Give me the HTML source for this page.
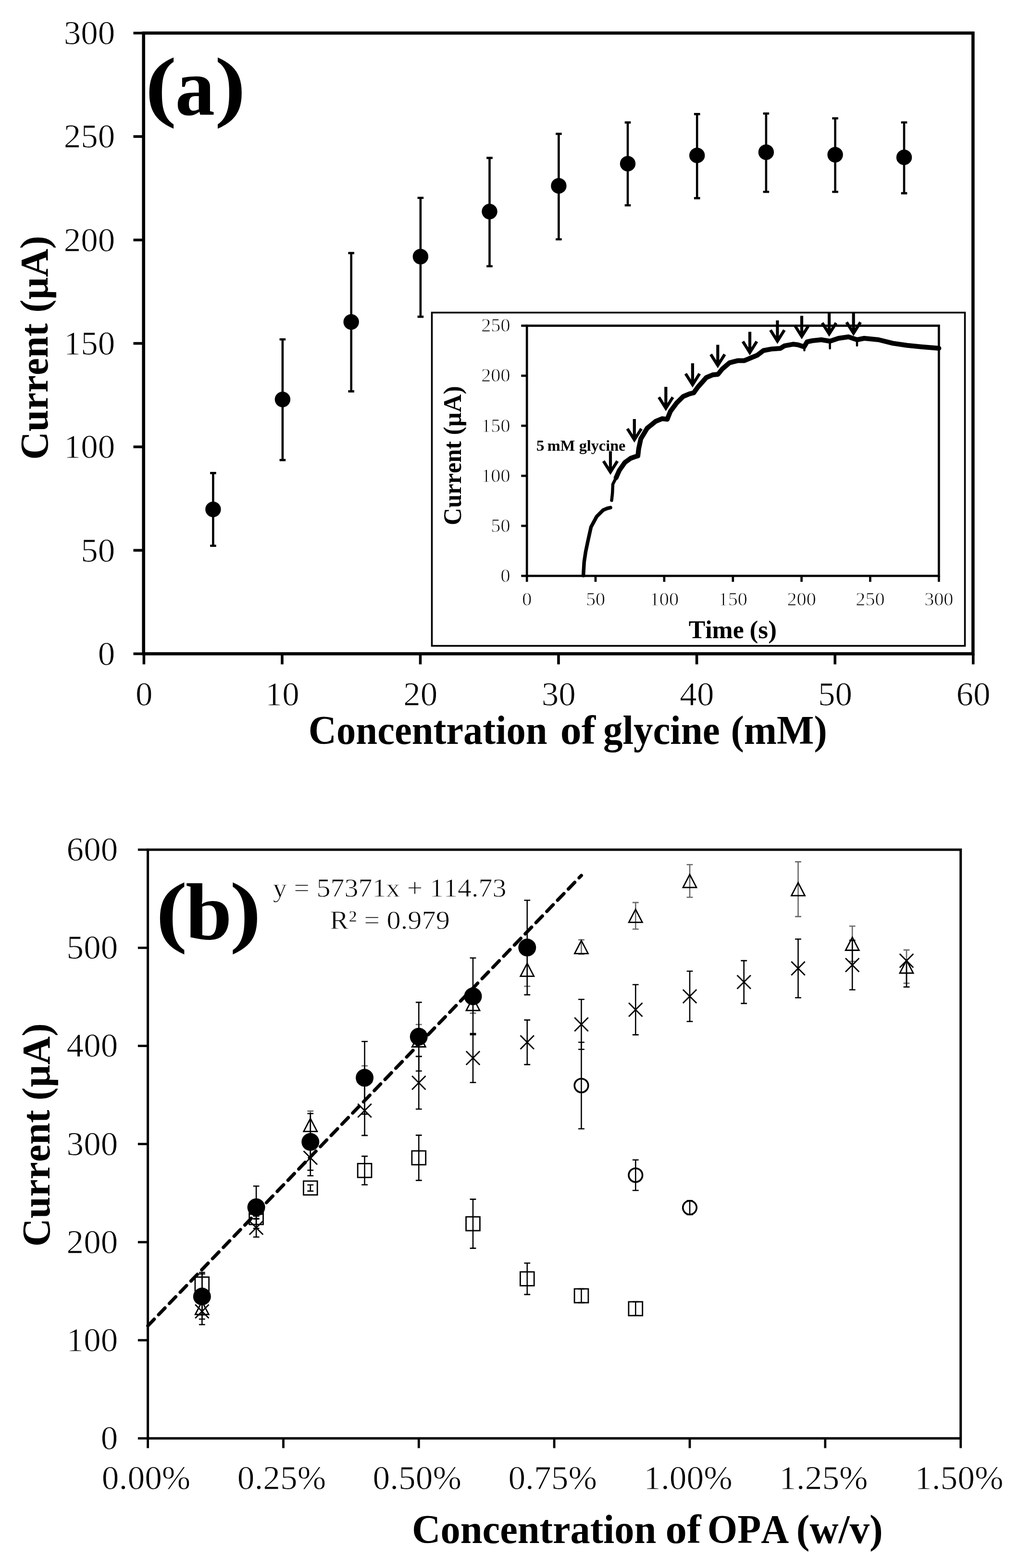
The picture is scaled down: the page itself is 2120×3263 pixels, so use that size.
<!DOCTYPE html><html><head><meta charset="utf-8"><title>Chart</title><style>html,body{margin:0;padding:0;background:#fff;}body{width:2120px;height:3263px;overflow:hidden;}svg{display:block;}.r{stroke:#fff;stroke-width:0.9px;}</style></head><body><svg width="2120" height="3263" viewBox="0 0 2120 3263" font-family="'Liberation Serif', serif" style="font-kerning:none">
<rect width="2120" height="3263" fill="#fff"/>
<rect x="298.7" y="68.8" width="1725.6" height="1291.7" fill="none" stroke="#000" stroke-width="6.6"/>
<g stroke="#000" stroke-width="5.6" fill="none">
<line x1="277.5" y1="1360.5" x2="298.7" y2="1360.5"/>
<line x1="277.5" y1="1145.2" x2="298.7" y2="1145.2"/>
<line x1="277.5" y1="929.9" x2="298.7" y2="929.9"/>
<line x1="277.5" y1="714.6" x2="298.7" y2="714.6"/>
<line x1="277.5" y1="499.4" x2="298.7" y2="499.4"/>
<line x1="277.5" y1="284.1" x2="298.7" y2="284.1"/>
<line x1="277.5" y1="68.8" x2="298.7" y2="68.8"/>
<line x1="299.4" y1="1360.5" x2="299.4" y2="1382.5"/>
<line x1="587.0" y1="1360.5" x2="587.0" y2="1382.5"/>
<line x1="874.5" y1="1360.5" x2="874.5" y2="1382.5"/>
<line x1="1162.0" y1="1360.5" x2="1162.0" y2="1382.5"/>
<line x1="1449.6" y1="1360.5" x2="1449.6" y2="1382.5"/>
<line x1="1737.2" y1="1360.5" x2="1737.2" y2="1382.5"/>
<line x1="2024.7" y1="1360.5" x2="2024.7" y2="1382.5"/>
</g>
<g fill="#000">
<text x="203.77" y="1383.90" font-size="69" class="r" textLength="35.54" lengthAdjust="spacingAndGlyphs">0</text>
<text x="168.24" y="1168.62" font-size="69" class="r" textLength="71.07" lengthAdjust="spacingAndGlyphs">50</text>
<text x="132.70" y="953.33" font-size="69" class="r" textLength="106.61" lengthAdjust="spacingAndGlyphs">100</text>
<text x="132.70" y="738.05" font-size="69" class="r" textLength="106.61" lengthAdjust="spacingAndGlyphs">150</text>
<text x="132.70" y="522.77" font-size="69" class="r" textLength="106.60" lengthAdjust="spacingAndGlyphs">200</text>
<text x="132.70" y="307.48" font-size="69" class="r" textLength="106.60" lengthAdjust="spacingAndGlyphs">250</text>
<text x="132.70" y="92.20" font-size="69" class="r" textLength="106.61" lengthAdjust="spacingAndGlyphs">300</text>
<text x="281.93" y="1468.30" font-size="69" class="r" textLength="35.54" lengthAdjust="spacingAndGlyphs">0</text>
<text x="551.72" y="1468.30" font-size="69" class="r" textLength="71.07" lengthAdjust="spacingAndGlyphs">10</text>
<text x="839.26" y="1468.30" font-size="69" class="r" textLength="71.07" lengthAdjust="spacingAndGlyphs">20</text>
<text x="1126.82" y="1468.30" font-size="69" class="r" textLength="71.07" lengthAdjust="spacingAndGlyphs">30</text>
<text x="1414.37" y="1468.30" font-size="69" class="r" textLength="71.07" lengthAdjust="spacingAndGlyphs">40</text>
<text x="1701.91" y="1468.30" font-size="69" class="r" textLength="71.07" lengthAdjust="spacingAndGlyphs">50</text>
<text x="1989.46" y="1468.30" font-size="69" class="r" textLength="71.07" lengthAdjust="spacingAndGlyphs">60</text>
<text x="641.87" y="1547.80" font-size="84.5" font-weight="bold" textLength="496.75" lengthAdjust="spacingAndGlyphs">Concentration</text>
<text x="1165.65" y="1547.80" font-size="84.5" font-weight="bold" textLength="73.29" lengthAdjust="spacingAndGlyphs">of</text>
<text x="1254.97" y="1547.80" font-size="84.5" font-weight="bold" textLength="242.83" lengthAdjust="spacingAndGlyphs">glycine</text>
<text x="1520.40" y="1547.80" font-size="84.5" font-weight="bold" textLength="200.31" lengthAdjust="spacingAndGlyphs">(mM)</text>
<text transform="translate(99.40,952.70) rotate(-90)" x="-3.96" y="0" font-size="83" font-weight="bold" textLength="283.72" lengthAdjust="spacingAndGlyphs">Current</text>
<text transform="translate(99.40,647.00) rotate(-90)" x="-3.58" y="0" font-size="83" font-weight="bold" textLength="159.96" lengthAdjust="spacingAndGlyphs">(µA)</text>
<text x="302.06" y="233.25" font-size="163.22" font-weight="bold" textLength="65.48" lengthAdjust="spacingAndGlyphs">(</text>
<text x="364.38" y="238.55" font-size="169.31" font-weight="bold" textLength="82.52" lengthAdjust="spacingAndGlyphs">a</text>
<text x="446.75" y="233.25" font-size="163.22" font-weight="bold" textLength="64.57" lengthAdjust="spacingAndGlyphs">)</text>
</g>
<g stroke="#000" stroke-width="4.6" fill="none">
<path d="M443.4,984.4V1135.8M437.1,984.4H449.7M437.1,1135.8H449.7"/>
<path d="M587.9,706.2V957.4M581.6,706.2H594.2M581.6,957.4H594.2"/>
<path d="M730.7,526.6V814.4M724.4,526.6H737.0M724.4,814.4H737.0"/>
<path d="M874.9,411.7V659.1M868.6,411.7H881.2M868.6,659.1H881.2"/>
<path d="M1018.5,328.6V554M1012.2,328.6H1024.8M1012.2,554H1024.8"/>
<path d="M1162.4,278.5V498M1156.1,278.5H1168.7M1156.1,498H1168.7"/>
<path d="M1306,254.9V427.2M1299.7,254.9H1312.3M1299.7,427.2H1312.3"/>
<path d="M1450.2,237.4V412.4M1443.9,237.4H1456.5M1443.9,412.4H1456.5"/>
<path d="M1593.9,236.3V399.2M1587.6,236.3H1600.2M1587.6,399.2H1600.2"/>
<path d="M1737.6,246.2V399.2M1731.3,246.2H1743.9M1731.3,399.2H1743.9"/>
<path d="M1881,254.8V402.1M1874.7,254.8H1887.3M1874.7,402.1H1887.3"/>
</g>
<g fill="#000">
<circle cx="443.4" cy="1060" r="16.2"/>
<circle cx="587.9" cy="831.2" r="16.2"/>
<circle cx="730.7" cy="670" r="16.2"/>
<circle cx="874.9" cy="534" r="16.2"/>
<circle cx="1018.5" cy="440.2" r="16.2"/>
<circle cx="1162.4" cy="386.8" r="16.2"/>
<circle cx="1306" cy="340.6" r="16.2"/>
<circle cx="1450.2" cy="323.4" r="16.2"/>
<circle cx="1593.9" cy="316.7" r="16.2"/>
<circle cx="1737.6" cy="322" r="16.2"/>
<circle cx="1881" cy="327.4" r="16.2"/>
</g>
<rect x="898.5" y="650.5" width="1109" height="693.5" fill="#fff" stroke="#000" stroke-width="3.6"/>
<rect x="1096.2" y="677.8" width="857.0999999999999" height="520.6000000000001" fill="none" stroke="#000" stroke-width="4.7"/>
<g stroke="#000" stroke-width="4.7" fill="none">
<line x1="1084.3" y1="1198.4" x2="1096.2" y2="1198.4"/>
<line x1="1084.3" y1="1094.3" x2="1096.2" y2="1094.3"/>
<line x1="1084.3" y1="990.2" x2="1096.2" y2="990.2"/>
<line x1="1084.3" y1="886.0" x2="1096.2" y2="886.0"/>
<line x1="1084.3" y1="781.9" x2="1096.2" y2="781.9"/>
<line x1="1084.3" y1="677.8" x2="1096.2" y2="677.8"/>
<line x1="1096.2" y1="1198.4" x2="1096.2" y2="1210.8"/>
<line x1="1239.0" y1="1198.4" x2="1239.0" y2="1210.8"/>
<line x1="1381.9" y1="1198.4" x2="1381.9" y2="1210.8"/>
<line x1="1524.8" y1="1198.4" x2="1524.8" y2="1210.8"/>
<line x1="1667.6" y1="1198.4" x2="1667.6" y2="1210.8"/>
<line x1="1810.4" y1="1198.4" x2="1810.4" y2="1210.8"/>
<line x1="1953.3" y1="1198.4" x2="1953.3" y2="1210.8"/>
</g>
<g fill="#000">
<text x="1041.44" y="1210.90" font-size="39" class="r" textLength="20.09" lengthAdjust="spacingAndGlyphs">0</text>
<text x="1021.36" y="1106.78" font-size="39" class="r" textLength="40.17" lengthAdjust="spacingAndGlyphs">50</text>
<text x="1001.27" y="1002.66" font-size="39" class="r" textLength="60.25" lengthAdjust="spacingAndGlyphs">100</text>
<text x="1001.27" y="898.54" font-size="39" class="r" textLength="60.25" lengthAdjust="spacingAndGlyphs">150</text>
<text x="1001.27" y="794.42" font-size="39" class="r" textLength="60.25" lengthAdjust="spacingAndGlyphs">200</text>
<text x="1001.27" y="690.30" font-size="39" class="r" textLength="60.25" lengthAdjust="spacingAndGlyphs">250</text>
<text x="1086.16" y="1259.50" font-size="39" class="r" textLength="20.08" lengthAdjust="spacingAndGlyphs">0</text>
<text x="1218.96" y="1259.50" font-size="39" class="r" textLength="40.17" lengthAdjust="spacingAndGlyphs">50</text>
<text x="1351.77" y="1259.50" font-size="39" class="r" textLength="60.25" lengthAdjust="spacingAndGlyphs">100</text>
<text x="1494.62" y="1259.50" font-size="39" class="r" textLength="60.25" lengthAdjust="spacingAndGlyphs">150</text>
<text x="1637.47" y="1259.50" font-size="39" class="r" textLength="60.25" lengthAdjust="spacingAndGlyphs">200</text>
<text x="1780.32" y="1259.50" font-size="39" class="r" textLength="60.25" lengthAdjust="spacingAndGlyphs">250</text>
<text x="1923.17" y="1259.50" font-size="39" class="r" textLength="60.26" lengthAdjust="spacingAndGlyphs">300</text>
<text x="1432.79" y="1327.50" font-size="53" font-weight="bold" textLength="114.85" lengthAdjust="spacingAndGlyphs">Time</text>
<text x="1559.55" y="1327.50" font-size="53" font-weight="bold" textLength="56.40" lengthAdjust="spacingAndGlyphs">(s)</text>
<text transform="translate(959.30,1090.50) rotate(-90)" x="-2.44" y="0" font-size="52" font-weight="bold" textLength="174.76" lengthAdjust="spacingAndGlyphs">Current</text>
<text transform="translate(959.30,902.90) rotate(-90)" x="-2.28" y="0" font-size="52" font-weight="bold" textLength="101.96" lengthAdjust="spacingAndGlyphs">(µA)</text>
<text x="1115.85" y="938.30" font-size="32" font-weight="bold" textLength="16.89" lengthAdjust="spacingAndGlyphs">5</text>
<text x="1138.73" y="938.30" font-size="32" font-weight="bold" textLength="57.50" lengthAdjust="spacingAndGlyphs">mM</text>
<text x="1204.65" y="938.30" font-size="32" font-weight="bold" textLength="96.79" lengthAdjust="spacingAndGlyphs">glycine</text>
</g>
<polyline points="1213.6,1197.7 1215.3,1169.1 1218.5,1148.0 1222.9,1127.0 1229.6,1096.8 1241.4,1074.9 1254.8,1061.5 1263.0,1058.0 1270.0,1056.4" fill="none" stroke="#000" stroke-width="7.5" stroke-linejoin="round" stroke-linecap="round"/>
<polyline points="1272.5,1041.3 1274.2,1026.1 1275.0,1007.6 1281.7,994.2" fill="none" stroke="#000" stroke-width="6.5" stroke-linejoin="round" stroke-linecap="round"/>
<polyline points="1281.7,994.2 1288.4,979.0 1300.2,962.2 1312.0,953.8 1321.0,950.5 1327.1,948.8 1328.8,933.6 1333.2,913.1 1346.4,891.1 1364.0,876.8 1377.2,871.3 1388.2,872.4 1394.8,855.9 1408.0,838.3 1421.2,825.2 1434.4,819.7 1443.2,817.5 1452.0,805.4 1469.5,785.6 1482.7,780.1 1493.7,779.0 1502.5,768.0 1517.9,754.8 1535.5,750.4 1548.7,750.4 1561.9,744.9 1575.1,739.4 1588.3,729.5 1605.9,726.2 1623.5,725.1 1632.3,719.6 1649.9,716.3 1660.0,717.5 1673.0,721.8 1679.0,711.4 1690.0,709.0 1708.8,707.0 1726.6,710.0 1744.5,704.0 1765.3,701.0 1783.1,707.0 1798.0,704.0 1827.8,707.0 1857.5,714.4 1887.3,718.8 1917.0,721.8 1953.3,724.8" fill="none" stroke="#000" stroke-width="10" stroke-linejoin="round" stroke-linecap="round"/>
<line x1="1673.5" y1="718" x2="1673.5" y2="729" stroke="#000" stroke-width="4.5" stroke-linecap="round"/>
<line x1="1726.6" y1="711" x2="1726.6" y2="725" stroke="#000" stroke-width="4.5" stroke-linecap="round"/>
<line x1="1783" y1="707" x2="1783" y2="719" stroke="#000" stroke-width="4.5" stroke-linecap="round"/>
<g stroke="#000" stroke-width="6.2" fill="none" stroke-linejoin="miter">
<path d="M1270,939V982.5M1255.5,959.5L1270,982.5L1284.5,959.5"/>
<path d="M1319.8,872V915.2M1305.3,892.2L1319.8,915.2L1334.3,892.2"/>
<path d="M1385.3,805.1V849.7M1370.8,826.7L1385.3,849.7L1399.8,826.7"/>
<path d="M1440.9,756V800.6M1426.4,777.6L1440.9,800.6L1455.4,777.6"/>
<path d="M1493.3,717.4V760.5M1478.8,737.5L1493.3,760.5L1507.8,737.5"/>
<path d="M1560,690.6V733.7M1545.5,710.7L1560,733.7L1574.5,710.7"/>
<path d="M1617.4,666.8V709.9M1602.9,686.9L1617.4,709.9L1631.9,686.9"/>
<path d="M1668,657.3V700.1M1653.5,677.1L1668,700.1L1682.5,677.1"/>
<path d="M1725.1,651.9V695.0M1710.6,672.0L1725.1,695.0L1739.6,672.0"/>
<path d="M1775.7,651.9V693.5M1761.2,670.5L1775.7,693.5L1790.2,670.5"/>
</g>
<rect x="307.6" y="1768.2" width="1691.1" height="1224.9999999999998" fill="none" stroke="#000" stroke-width="5"/>
<g stroke="#000" stroke-width="4.8" fill="none">
<line x1="286.9" y1="2993.2" x2="307.6" y2="2993.2"/>
<line x1="286.9" y1="2789.0" x2="307.6" y2="2789.0"/>
<line x1="286.9" y1="2584.9" x2="307.6" y2="2584.9"/>
<line x1="286.9" y1="2380.7" x2="307.6" y2="2380.7"/>
<line x1="286.9" y1="2176.5" x2="307.6" y2="2176.5"/>
<line x1="286.9" y1="1972.4" x2="307.6" y2="1972.4"/>
<line x1="286.9" y1="1768.2" x2="307.6" y2="1768.2"/>
<line x1="307.6" y1="2993.2" x2="307.6" y2="3013.5"/>
<line x1="589.5" y1="2993.2" x2="589.5" y2="3013.5"/>
<line x1="871.3" y1="2993.2" x2="871.3" y2="3013.5"/>
<line x1="1153.1" y1="2993.2" x2="1153.1" y2="3013.5"/>
<line x1="1435.0" y1="2993.2" x2="1435.0" y2="3013.5"/>
<line x1="1716.8" y1="2993.2" x2="1716.8" y2="3013.5"/>
<line x1="1998.7" y1="2993.2" x2="1998.7" y2="3013.5"/>
</g>
<g fill="#000">
<text x="209.67" y="3016.00" font-size="69" class="r" textLength="35.54" lengthAdjust="spacingAndGlyphs">0</text>
<text x="138.60" y="2811.83" font-size="69" class="r" textLength="106.60" lengthAdjust="spacingAndGlyphs">100</text>
<text x="138.60" y="2607.67" font-size="69" class="r" textLength="106.61" lengthAdjust="spacingAndGlyphs">200</text>
<text x="138.60" y="2403.50" font-size="69" class="r" textLength="106.60" lengthAdjust="spacingAndGlyphs">300</text>
<text x="138.60" y="2199.33" font-size="69" class="r" textLength="106.61" lengthAdjust="spacingAndGlyphs">400</text>
<text x="138.60" y="1995.17" font-size="69" class="r" textLength="106.61" lengthAdjust="spacingAndGlyphs">500</text>
<text x="138.60" y="1791.00" font-size="69" class="r" textLength="106.61" lengthAdjust="spacingAndGlyphs">600</text>
<text x="211.87" y="3099.30" font-size="69" class="r" textLength="184.47" lengthAdjust="spacingAndGlyphs">0.00%</text>
<text x="493.72" y="3099.30" font-size="69" class="r" textLength="184.47" lengthAdjust="spacingAndGlyphs">0.25%</text>
<text x="775.57" y="3099.30" font-size="69" class="r" textLength="184.47" lengthAdjust="spacingAndGlyphs">0.50%</text>
<text x="1057.42" y="3099.30" font-size="69" class="r" textLength="184.47" lengthAdjust="spacingAndGlyphs">0.75%</text>
<text x="1339.27" y="3099.30" font-size="69" class="r" textLength="184.47" lengthAdjust="spacingAndGlyphs">1.00%</text>
<text x="1621.12" y="3099.30" font-size="69" class="r" textLength="184.47" lengthAdjust="spacingAndGlyphs">1.25%</text>
<text x="1902.97" y="3099.30" font-size="69" class="r" textLength="184.47" lengthAdjust="spacingAndGlyphs">1.50%</text>
<text x="856.98" y="3210.60" font-size="84.5" font-weight="bold" textLength="508.27" lengthAdjust="spacingAndGlyphs">Concentration</text>
<text x="1384.62" y="3210.60" font-size="84.5" font-weight="bold" textLength="73.91" lengthAdjust="spacingAndGlyphs">of</text>
<text x="1471.78" y="3210.60" font-size="84.5" font-weight="bold" textLength="169.30" lengthAdjust="spacingAndGlyphs">OPA</text>
<text x="1656.75" y="3210.60" font-size="84.5" font-weight="bold" textLength="180.00" lengthAdjust="spacingAndGlyphs">(w/v)</text>
<text transform="translate(102.60,2590.20) rotate(-90)" x="-3.97" y="0" font-size="83" font-weight="bold" textLength="284.43" lengthAdjust="spacingAndGlyphs">Current</text>
<text transform="translate(102.60,2286.50) rotate(-90)" x="-3.59" y="0" font-size="83" font-weight="bold" textLength="160.59" lengthAdjust="spacingAndGlyphs">(µA)</text>
<text x="324.16" y="1951.09" font-size="166.31" font-weight="bold" textLength="65.48" lengthAdjust="spacingAndGlyphs">(</text>
<text x="386.09" y="1954.26" font-size="167.85" font-weight="bold" textLength="96.76" lengthAdjust="spacingAndGlyphs">b</text>
<text x="478.06" y="1951.09" font-size="166.31" font-weight="bold" textLength="65.48" lengthAdjust="spacingAndGlyphs">)</text>
<text x="567.79" y="1865.50" font-size="55" class="r" textLength="485.67" lengthAdjust="spacingAndGlyphs">y = 57371x + 114.73</text>
<text x="686.22" y="1932.80" font-size="55" class="r" textLength="249.57" lengthAdjust="spacingAndGlyphs">R² = 0.979</text>
</g>
<line x1="307.6" y1="2759.0" x2="1209.5" y2="1821.9" stroke="#000" stroke-width="7" stroke-dasharray="19 13.35" stroke-linecap="round"/>
<path d="M420.3,2706.8V2736.8M413.9,2706.8H426.7M413.9,2736.8H426.7" stroke="#6a6a6a" stroke-width="2.6" fill="none"/>
<path d="M533.1,2503.0V2523.0M526.7,2503.0H539.5M526.7,2523.0H539.5" stroke="#6a6a6a" stroke-width="2.6" fill="none"/>
<path d="M645.8,2312.1V2370.1M639.4,2312.1H652.2M639.4,2370.1H652.2" stroke="#6a6a6a" stroke-width="2.6" fill="none"/>
<path d="M758.6,2218.0V2258.0M752.2,2218.0H765.0M752.2,2258.0H765.0" stroke="#6a6a6a" stroke-width="2.6" fill="none"/>
<path d="M871.3,2132.0V2198.0M864.9,2132.0H877.7M864.9,2198.0H877.7" stroke="#6a6a6a" stroke-width="2.6" fill="none"/>
<path d="M984.0,2070.4V2108.4M977.6,2070.4H990.4M977.6,2108.4H990.4" stroke="#6a6a6a" stroke-width="2.6" fill="none"/>
<path d="M1096.8,1983.9V2052.5M1090.4,1983.9H1103.2M1090.4,2052.5H1103.2" stroke="#6a6a6a" stroke-width="2.6" fill="none"/>
<path d="M1209.5,1955.8V1985.8M1203.1,1955.8H1215.9M1203.1,1985.8H1215.9" stroke="#6a6a6a" stroke-width="2.6" fill="none"/>
<path d="M1322.3,1878.1V1933.5M1315.9,1878.1H1328.7M1315.9,1933.5H1328.7" stroke="#6a6a6a" stroke-width="2.6" fill="none"/>
<path d="M1435.0,1799.3V1867.3M1428.6,1799.3H1441.4M1428.6,1867.3H1441.4" stroke="#6a6a6a" stroke-width="2.6" fill="none"/>
<path d="M1660.5,1793.4V1907.4M1654.1,1793.4H1666.9M1654.1,1907.4H1666.9" stroke="#6a6a6a" stroke-width="2.6" fill="none"/>
<path d="M1773.2,1927.2V2000.8M1766.8,1927.2H1779.6M1766.8,2000.8H1779.6" stroke="#6a6a6a" stroke-width="2.6" fill="none"/>
<path d="M1886.0,1976.9V2046.1M1879.6,1976.9H1892.4M1879.6,2046.1H1892.4" stroke="#6a6a6a" stroke-width="2.6" fill="none"/>
<path d="M420.3,2648.0V2696.0M413.9,2648.0H426.7M413.9,2696.0H426.7" stroke="#000" stroke-width="2.6" fill="none"/>
<path d="M533.1,2530.7V2536.7M526.7,2530.7H539.5M526.7,2536.7H539.5" stroke="#000" stroke-width="2.6" fill="none"/>
<path d="M645.8,2465.8V2478.6M639.4,2465.8H652.2M639.4,2478.6H652.2" stroke="#000" stroke-width="2.6" fill="none"/>
<path d="M758.6,2406.1V2465.5M752.2,2406.1H765.0M752.2,2465.5H765.0" stroke="#000" stroke-width="2.6" fill="none"/>
<path d="M871.3,2362.4V2456.4M864.9,2362.4H877.7M864.9,2456.4H877.7" stroke="#000" stroke-width="2.6" fill="none"/>
<path d="M984.0,2495.6V2597.6M977.6,2495.6H990.4M977.6,2597.6H990.4" stroke="#000" stroke-width="2.6" fill="none"/>
<path d="M1096.8,2628.5V2693.9M1090.4,2628.5H1103.2M1090.4,2693.9H1103.2" stroke="#000" stroke-width="2.6" fill="none"/>
<path d="M1209.5,2682.1V2710.9M1203.1,2682.1H1215.9M1203.1,2710.9H1215.9" stroke="#000" stroke-width="2.6" fill="none"/>
<path d="M1322.3,2709.0V2737.8M1315.9,2709.0H1328.7M1315.9,2737.8H1328.7" stroke="#000" stroke-width="2.6" fill="none"/>
<path d="M420.3,2701.5V2756.5M413.9,2701.5H426.7M413.9,2756.5H426.7" stroke="#000" stroke-width="2.6" fill="none"/>
<path d="M533.1,2535.7V2574.3M526.7,2535.7H539.5M526.7,2574.3H539.5" stroke="#000" stroke-width="2.6" fill="none"/>
<path d="M645.8,2372.1V2446.7M639.4,2372.1H652.2M639.4,2446.7H652.2" stroke="#000" stroke-width="2.6" fill="none"/>
<path d="M758.6,2259.3V2362.9M752.2,2259.3H765.0M752.2,2362.9H765.0" stroke="#000" stroke-width="2.6" fill="none"/>
<path d="M871.3,2198.6V2308.0M864.9,2198.6H877.7M864.9,2308.0H877.7" stroke="#000" stroke-width="2.6" fill="none"/>
<path d="M984.0,2150.7V2252.7M977.6,2150.7H990.4M977.6,2252.7H990.4" stroke="#000" stroke-width="2.6" fill="none"/>
<path d="M1096.8,2122.6V2215.4M1090.4,2122.6H1103.2M1090.4,2215.4H1103.2" stroke="#000" stroke-width="2.6" fill="none"/>
<path d="M1209.5,2079.7V2183.7M1203.1,2079.7H1215.9M1203.1,2183.7H1215.9" stroke="#000" stroke-width="2.6" fill="none"/>
<path d="M1322.3,2049.0V2153.4M1315.9,2049.0H1328.7M1315.9,2153.4H1328.7" stroke="#000" stroke-width="2.6" fill="none"/>
<path d="M1435.0,2021.0V2125.8M1428.6,2021.0H1441.4M1428.6,2125.8H1441.4" stroke="#000" stroke-width="2.6" fill="none"/>
<path d="M1547.7,1999.1V2088.1M1541.3,1999.1H1554.1M1541.3,2088.1H1554.1" stroke="#000" stroke-width="2.6" fill="none"/>
<path d="M1660.5,1954.2V2076.2M1654.1,1954.2H1666.9M1654.1,2076.2H1666.9" stroke="#000" stroke-width="2.6" fill="none"/>
<path d="M1773.2,1956.9V2059.7M1766.8,1956.9H1779.6M1766.8,2059.7H1779.6" stroke="#000" stroke-width="2.6" fill="none"/>
<path d="M1886.0,1999.2V2053.9M1879.6,2053.9H1892.4" stroke="#000" stroke-width="2.6" fill="none"/>
<path d="M1209.5,2169.0V2349.0M1203.1,2169.0H1215.9M1203.1,2349.0H1215.9" stroke="#000" stroke-width="2.6" fill="none"/>
<path d="M1322.3,2413.7V2477.3M1315.9,2413.7H1328.7M1315.9,2477.3H1328.7" stroke="#000" stroke-width="2.6" fill="none"/>
<path d="M1435.0,2498.6V2527.6M1428.6,2498.6H1441.4M1428.6,2527.6H1441.4" stroke="#000" stroke-width="2.6" fill="none"/>
<path d="M420.3,2651.0V2745.0M413.9,2651.0H426.7M413.9,2745.0H426.7" stroke="#000" stroke-width="2.6" fill="none"/>
<path d="M533.1,2468.3V2556.3M526.7,2468.3H539.5M526.7,2556.3H539.5" stroke="#000" stroke-width="2.6" fill="none"/>
<path d="M645.8,2317.3V2435.3M639.4,2317.3H652.2M639.4,2435.3H652.2" stroke="#000" stroke-width="2.6" fill="none"/>
<path d="M758.6,2167.2V2318.4M752.2,2167.2H765.0M752.2,2318.4H765.0" stroke="#000" stroke-width="2.6" fill="none"/>
<path d="M871.3,2085.9V2228.7M864.9,2085.9H877.7M864.9,2228.7H877.7" stroke="#000" stroke-width="2.6" fill="none"/>
<path d="M984.0,1993.5V2153.1M977.6,1993.5H990.4M977.6,2153.1H990.4" stroke="#000" stroke-width="2.6" fill="none"/>
<path d="M1096.8,1873.5V2070.1M1090.4,1873.5H1103.2M1090.4,2070.1H1103.2" stroke="#000" stroke-width="2.6" fill="none"/>
<rect x="405.9" y="2657.6" width="28.8" height="28.8" fill="none" stroke="#000" stroke-width="2.8"/>
<rect x="518.7" y="2519.3" width="28.8" height="28.8" fill="none" stroke="#000" stroke-width="2.8"/>
<rect x="631.4" y="2457.8" width="28.8" height="28.8" fill="none" stroke="#000" stroke-width="2.8"/>
<rect x="744.2" y="2421.4" width="28.8" height="28.8" fill="none" stroke="#000" stroke-width="2.8"/>
<rect x="856.9" y="2395.0" width="28.8" height="28.8" fill="none" stroke="#000" stroke-width="2.8"/>
<rect x="969.6" y="2532.2" width="28.8" height="28.8" fill="none" stroke="#000" stroke-width="2.8"/>
<rect x="1082.4" y="2646.8" width="28.8" height="28.8" fill="none" stroke="#000" stroke-width="2.8"/>
<rect x="1195.1" y="2682.1" width="28.8" height="28.8" fill="none" stroke="#000" stroke-width="2.8"/>
<rect x="1307.9" y="2709.0" width="28.8" height="28.8" fill="none" stroke="#000" stroke-width="2.8"/>
<path d="M406.1,2714.8L434.5,2743.2M406.1,2743.2L434.5,2714.8" stroke="#000" stroke-width="2.8" fill="none"/>
<path d="M518.9,2540.8L547.3,2569.2M518.9,2569.2L547.3,2540.8" stroke="#000" stroke-width="2.8" fill="none"/>
<path d="M631.6,2395.2L660.0,2423.6M631.6,2423.6L660.0,2395.2" stroke="#000" stroke-width="2.8" fill="none"/>
<path d="M744.4,2296.9L772.8,2325.3M744.4,2325.3L772.8,2296.9" stroke="#000" stroke-width="2.8" fill="none"/>
<path d="M857.1,2239.1L885.5,2267.5M857.1,2267.5L885.5,2239.1" stroke="#000" stroke-width="2.8" fill="none"/>
<path d="M969.8,2187.5L998.2,2215.9M969.8,2215.9L998.2,2187.5" stroke="#000" stroke-width="2.8" fill="none"/>
<path d="M1082.6,2154.8L1111.0,2183.2M1082.6,2183.2L1111.0,2154.8" stroke="#000" stroke-width="2.8" fill="none"/>
<path d="M1195.3,2117.5L1223.7,2145.9M1195.3,2145.9L1223.7,2117.5" stroke="#000" stroke-width="2.8" fill="none"/>
<path d="M1308.1,2087.0L1336.5,2115.4M1308.1,2115.4L1336.5,2087.0" stroke="#000" stroke-width="2.8" fill="none"/>
<path d="M1420.8,2059.2L1449.2,2087.6M1420.8,2087.6L1449.2,2059.2" stroke="#000" stroke-width="2.8" fill="none"/>
<path d="M1533.5,2029.4L1561.9,2057.8M1533.5,2057.8L1561.9,2029.4" stroke="#000" stroke-width="2.8" fill="none"/>
<path d="M1646.3,2001.0L1674.7,2029.4M1646.3,2029.4L1674.7,2001.0" stroke="#000" stroke-width="2.8" fill="none"/>
<path d="M1759.0,1994.1L1787.4,2022.5M1759.0,2022.5L1787.4,1994.1" stroke="#000" stroke-width="2.8" fill="none"/>
<path d="M1871.8,1985.0L1900.2,2013.4M1871.8,2013.4L1900.2,1985.0" stroke="#000" stroke-width="2.8" fill="none"/>
<path d="M420.3,2708.3L434.3,2735.3L406.3,2735.3Z" stroke="#000" stroke-width="2.8" fill="none"/>
<path d="M533.1,2499.5L547.1,2526.5L519.1,2526.5Z" stroke="#000" stroke-width="2.8" fill="none"/>
<path d="M645.8,2327.6L659.8,2354.6L631.8,2354.6Z" stroke="#000" stroke-width="2.8" fill="none"/>
<path d="M758.6,2224.5L772.6,2251.5L744.6,2251.5Z" stroke="#000" stroke-width="2.8" fill="none"/>
<path d="M871.3,2151.5L885.3,2178.5L857.3,2178.5Z" stroke="#000" stroke-width="2.8" fill="none"/>
<path d="M984.0,2075.9L998.0,2102.9L970.0,2102.9Z" stroke="#000" stroke-width="2.8" fill="none"/>
<path d="M1096.8,2004.7L1110.8,2031.7L1082.8,2031.7Z" stroke="#000" stroke-width="2.8" fill="none"/>
<path d="M1209.5,1957.3L1223.5,1984.3L1195.5,1984.3Z" stroke="#000" stroke-width="2.8" fill="none"/>
<path d="M1322.3,1892.3L1336.3,1919.3L1308.3,1919.3Z" stroke="#000" stroke-width="2.8" fill="none"/>
<path d="M1435.0,1819.8L1449.0,1846.8L1421.0,1846.8Z" stroke="#000" stroke-width="2.8" fill="none"/>
<path d="M1660.5,1836.9L1674.5,1863.9L1646.5,1863.9Z" stroke="#000" stroke-width="2.8" fill="none"/>
<path d="M1773.2,1950.5L1787.2,1977.5L1759.2,1977.5Z" stroke="#000" stroke-width="2.8" fill="none"/>
<path d="M1886.0,1998.0L1900.0,2025.0L1872.0,2025.0Z" stroke="#000" stroke-width="2.8" fill="none"/>
<circle cx="1209.5" cy="2259" r="14.3" fill="none" stroke="#000" stroke-width="3.6"/>
<circle cx="1322.3" cy="2445.5" r="14.3" fill="none" stroke="#000" stroke-width="3.6"/>
<circle cx="1435.0" cy="2513.1" r="14.3" fill="none" stroke="#000" stroke-width="3.6"/>
<circle cx="420.3" cy="2698" r="18.5" fill="#000"/>
<circle cx="533.1" cy="2512.3" r="18.5" fill="#000"/>
<circle cx="645.8" cy="2376.3" r="18.5" fill="#000"/>
<circle cx="758.6" cy="2242.8" r="18.5" fill="#000"/>
<circle cx="871.3" cy="2157.3" r="18.5" fill="#000"/>
<circle cx="984.0" cy="2073.3" r="18.5" fill="#000"/>
<circle cx="1096.8" cy="1971.8" r="18.5" fill="#000"/>
</svg></body></html>
